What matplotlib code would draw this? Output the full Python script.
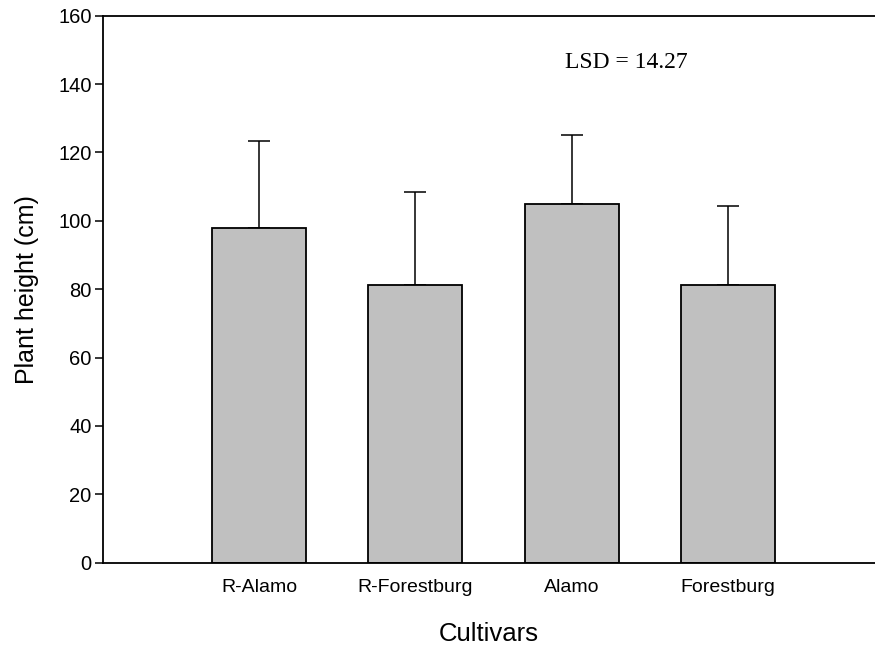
import numpy as np
import matplotlib
matplotlib.use('Agg')
import matplotlib.pyplot as plt

cultivars = ['R-Alamo', 'R-Forestburg', 'Alamo', 'Forestburg']
height = [98.0, 81.2, 105.0, 81.1]
err_up = [25.3, 27.2, 20.2, 23.3]
lsd_text = 'LSD = 14.27'

plt.rcParams['font.family'] = ['Liberation Sans', 'DejaVu Sans']

fig = plt.figure(figsize=(8.75, 6.52), dpi=100)
ax = fig.add_axes([0.1174, 0.137, 0.8826, 0.839])

x = np.arange(1, len(cultivars) + 1)
ax.bar(x, height, width=0.6, color='#c0c0c0', edgecolor='black', linewidth=1.3, zorder=2)
ax.errorbar(x, height, yerr=[np.zeros(len(x)), err_up], fmt='none', ecolor='black',
            elinewidth=1.1, capsize=8, capthick=1.1, zorder=1)

ax.set_xlim(0, 4.94)
ax.set_ylim(0, 160)
ax.set_yticks(np.arange(0, 161, 20))
ax.set_xticks(x)
ax.set_xticklabels(cultivars)
ax.tick_params(axis='x', length=0, pad=12, labelsize=14)
ax.tick_params(axis='y', direction='out', length=6, width=1.1, pad=2, labelsize=14.5)

for s in ['left', 'top', 'bottom']:
    ax.spines[s].set_linewidth(1.3)
ax.spines['right'].set_visible(False)

ax.set_ylabel('Plant height (cm)', fontsize=18)
ax.yaxis.set_label_coords(-0.082, 0.5)
ax.set_xlabel('Cultivars', fontsize=18.5)
ax.xaxis.set_label_coords(0.5, -0.108)

ax.text(3.35, 146.2, lsd_text, ha='center', va='center', fontsize=17,
        family=['Liberation Serif', 'DejaVu Serif'])

fig.savefig('out.png', dpi=100)
